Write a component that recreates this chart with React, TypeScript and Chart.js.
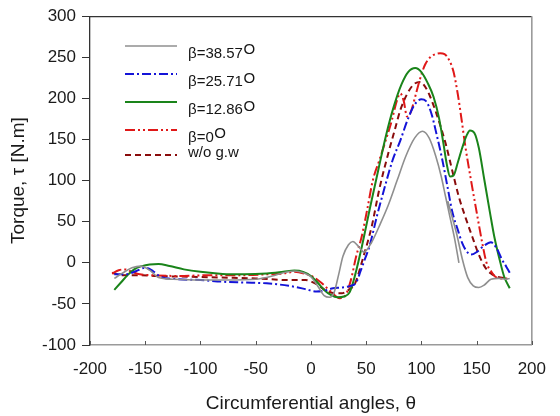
import React, { useEffect, useRef } from "react";
import { Chart, registerables } from "chart.js";

Chart.register(...registerables);

const FONT = "'Liberation Sans', Arial, Helvetica, sans-serif";

// ---- data ----
const seriesLabels = ["β=38.57", "β=25.71", "β=12.86", "β=0", "w/o g.w"];
const seriesSup = ["O", "O", "O", "O", ""];

const grayX = [-178, -170, -162, -154, -146, -138, -125, -100, -75, -50, -35, -25, -15, -7, 0, 6, 12, 17, 21, 25, 29, 34, 38, 43, 48, 55, 63, 70, 78, 86, 94, 101, 107, 113, 118, 122, 126, 130, 134, 134.5, 124, 128, 132, 137, 142, 147, 152, 157, 163, 170, 176, 180];
const grayY = [-19, -12, -6, -4, -9, -18, -20, -21, -21, -20, -16, -12, -10, -12, -17, -28, -40, -42, -36, -15, 8, 22, 26, 20, 13, 25, 48, 70, 100, 130, 152, 160, 152, 130, 105, 80, 55, 30, 0, null, 75, 55, 35, 5, -18, -28, -30, -27, -20, -19, -20, -19];

const blueX = [-178, -168, -158, -150, -143, -136, -120, -100, -80, -60, -40, -20, -5, 5, 12, 20, 28, 36, 41, 45, 49, 53, 60, 66, 74, 81, 87, 92, 96, 100, 104, 109, 114, 119, 124, 128, 133, 137, 141, 145, 150, 156, 163, 168, 173, 177, 180];
const blueY = [-14, -14, -10, -6, -10, -17, -20, -21, -23, -24, -25, -28, -32, -35, -34, -31, -30, -28, -24, -10, 5, 20, 58, 88, 125, 149, 172, 188, 196, 199, 197, 182, 155, 125, 90, 62, 40, 24, 14, 10, 13, 20, 25, 18, 4, -5, -12];

const greenX = [-178, -172, -166, -160, -153, -146, -138, -128, -115, -100, -80, -60, -40, -25, -15, -7, 0, 6, 12, 18, 24, 30, 35, 40, 46, 54, 61, 68, 75, 82, 88, 94.5, 100, 106, 111, 116, 120, 123, 126, 129, 133, 137, 141, 144, 148, 152, 157, 162, 166, 171, 175, 180];
const greenY = [-33, -24, -15, -8, -4, -2, -1.5, -4, -8, -11, -13.5, -14, -13, -11, -9.5, -11, -16, -24, -33, -39, -42, -41, -36, -15, 19, 70, 113, 155, 190, 217, 232, 237, 232, 218, 202, 176, 145, 120, 105, 106, 122, 140, 155, 161, 158, 140, 101, 62, 32, 3, -17, -31];

const redX = [-180, -174, -168, -162, -155, -145, -120, -90, -60, -40, -25, -15, -6, 2, 10, 18, 26, 31, 36, 41, 46, 51, 56, 62, 68, 73, 78, 81, 84, 87, 90, 94, 98, 103, 108, 113, 117, 121, 125, 129, 133, 136, 140, 145, 150, 155, 159, 163, 167, 172, 178];
const redY = [-13, -9, -8, -11, -14, -15, -16, -15, -15, -14, -13, -11, -13, -17, -25, -35, -43, -40, -22, 8, 32, 65, 100, 125, 150, 172, 198, 206, 197, 178, 182, 200, 220, 240, 250, 254, 255, 254, 247, 233, 205, 178, 140, 100, 62, 25, 0, -10, -17, -19, -19];

const darkX = [-180, -172, -165, -155, -140, -110, -80, -50, -20, -5, 5, 14, 22, 28, 34, 40, 47, 55, 62, 70, 76, 81, 87, 93, 99, 104, 108, 114, 122, 128, 134, 140, 146, 152, 157.5, 163, 169, 178];
const darkY = [-12, -15, -15, -15, -16, -17, -18, -19, -21, -21, -26, -34, -37, -37, -33, -25, 5, 44, 90, 133, 162, 186, 205, 217, 220, 213, 202, 180, 145, 112, 80, 55, 32, 10, -5, -13, -17, -19];

const xTickValues = [-200, -150, -100, -50, 0, 50, 100, 150, 200];

function zip(xs: number[], ys: (number | null)[]) {
  return xs.map((x, i) => ({ x, y: ys[i] }));
}

const framePlugin = {
  id: "frame",
  afterDraw(chart: any) {
    const { ctx, chartArea } = chart;
    const { left, right, top, bottom } = chartArea;
    ctx.save();
    ctx.lineWidth = 1.3;
    ctx.strokeStyle = "#333333";
    ctx.beginPath();
    ctx.moveTo(left, top + 0.5);
    ctx.lineTo(right, top + 0.5);
    ctx.stroke();
    ctx.strokeStyle = "#9a9a9a";
    ctx.lineWidth = 1.6;
    ctx.beginPath();
    ctx.moveTo(right, top);
    ctx.lineTo(right, bottom);
    ctx.stroke();
    // inward ticks on x axis
    const xs = chart.scales.x;
    ctx.strokeStyle = "#555555";
    ctx.lineWidth = 1;
    xTickValues.forEach((v) => {
      const px = Math.round(xs.getPixelForValue(v)) + 0.5;
      ctx.beginPath();
      ctx.moveTo(px, bottom);
      ctx.lineTo(px, bottom - 4);
      ctx.stroke();
    });
    ctx.restore();
  },
};

const legendPlugin = {
  id: "innerLegend",
  afterDraw(chart: any) {
    const { ctx } = chart;
    const lineY = [46, 74, 102, 130, 155];
    const baseY = [57.5, 86, 114, 141.5, 157];
    ctx.save();
    chart.data.datasets.forEach((ds: any, i: number) => {
      ctx.strokeStyle = ds.borderColor;
      ctx.lineWidth = ds.borderWidth;
      ctx.setLineDash(ds.borderDash || []);
      ctx.beginPath();
      ctx.moveTo(125, lineY[i]);
      ctx.lineTo(177, lineY[i]);
      ctx.stroke();
      ctx.setLineDash([]);
      ctx.fillStyle = "#151515";
      ctx.textBaseline = "alphabetic";
      ctx.textAlign = "left";
      ctx.font = `15px ${FONT}`;
      ctx.fillText(seriesLabels[i], 188, baseY[i]);
      const w = ctx.measureText(seriesLabels[i]).width;
      if (seriesSup[i]) {
        ctx.font = `15px ${FONT}`;
        ctx.fillText(seriesSup[i], 188 + w + 0.5, baseY[i] - 3.5);
      }
    });
    ctx.restore();
  },
};

export default function App() {
  const ref = useRef<HTMLCanvasElement>(null);
  useEffect(() => {
    const canvas = ref.current;
    if (!canvas) return;
    const common = {
      pointRadius: 0,
      fill: false,
      cubicInterpolationMode: "monotone" as const,
      spanGaps: false,
    };
    const chart = new Chart(canvas, {
      type: "line",
      data: {
        datasets: [
          { ...common, label: "β=38.57°", data: zip(grayX, grayY), borderColor: "#8f8f8f", borderWidth: 1.6, borderDash: [] },
          { ...common, label: "β=25.71°", data: zip(blueX, blueY), borderColor: "#1414d8", borderWidth: 2, borderDash: [9, 3, 2, 3] },
          { ...common, label: "β=12.86°", data: zip(greenX, greenY), borderColor: "#1a841a", borderWidth: 2, borderDash: [] },
          { ...common, label: "β=0°", data: zip(redX, redY), borderColor: "#e01818", borderWidth: 2, borderDash: [10, 3, 2, 3, 2, 3] },
          { ...common, label: "w/o g.w", data: zip(darkX, darkY), borderColor: "#8a0c0c", borderWidth: 2, borderDash: [6, 4] },
        ] as any,
      },
      options: {
        responsive: false,
        animation: false,
        events: [],
        layout: { padding: { left: 0, right: 14, top: 16, bottom: 0 } },
        plugins: { legend: { display: false }, tooltip: { enabled: false } },
        scales: {
          x: {
            type: "linear",
            min: -200,
            max: 200,
            afterFit: (s: any) => { s.height = 71; },
            ticks: { stepSize: 50, color: "#1a1a1a", font: { family: FONT, size: 17 }, padding: 14, maxRotation: 0 },
            grid: { display: true, drawOnChartArea: false, drawTicks: false },
            border: { color: "#9a9a9a", width: 1.6 },
            title: { display: true, text: "Circumferential angles, θ", color: "#1a1a1a", font: { family: FONT, size: 19 }, padding: { top: 0, bottom: 1 } },
          },
          y: {
            type: "linear",
            min: -100,
            max: 300,
            afterFit: (s: any) => { s.width = 90; },
            ticks: { stepSize: 50, color: "#1a1a1a", font: { family: FONT, size: 17 }, padding: 6 },
            grid: { display: true, drawOnChartArea: false, drawTicks: true, tickLength: 8, color: "#333333" },
            border: { color: "#333333", width: 1.3 },
            title: { display: true, text: "Torque, τ [N.m]", color: "#1a1a1a", font: { family: FONT, size: 19 }, padding: { top: 7, bottom: 0 } },
          },
        },
      } as any,
      plugins: [framePlugin, legendPlugin],
    });
    return () => chart.destroy();
  }, []);
  return (
    <div style={{ position: "fixed", left: 0, top: 0, width: 560, height: 416, background: "#ffffff" }}>
      <canvas ref={ref} width={560} height={416} style={{ display: "block" }} />
    </div>
  );
}
